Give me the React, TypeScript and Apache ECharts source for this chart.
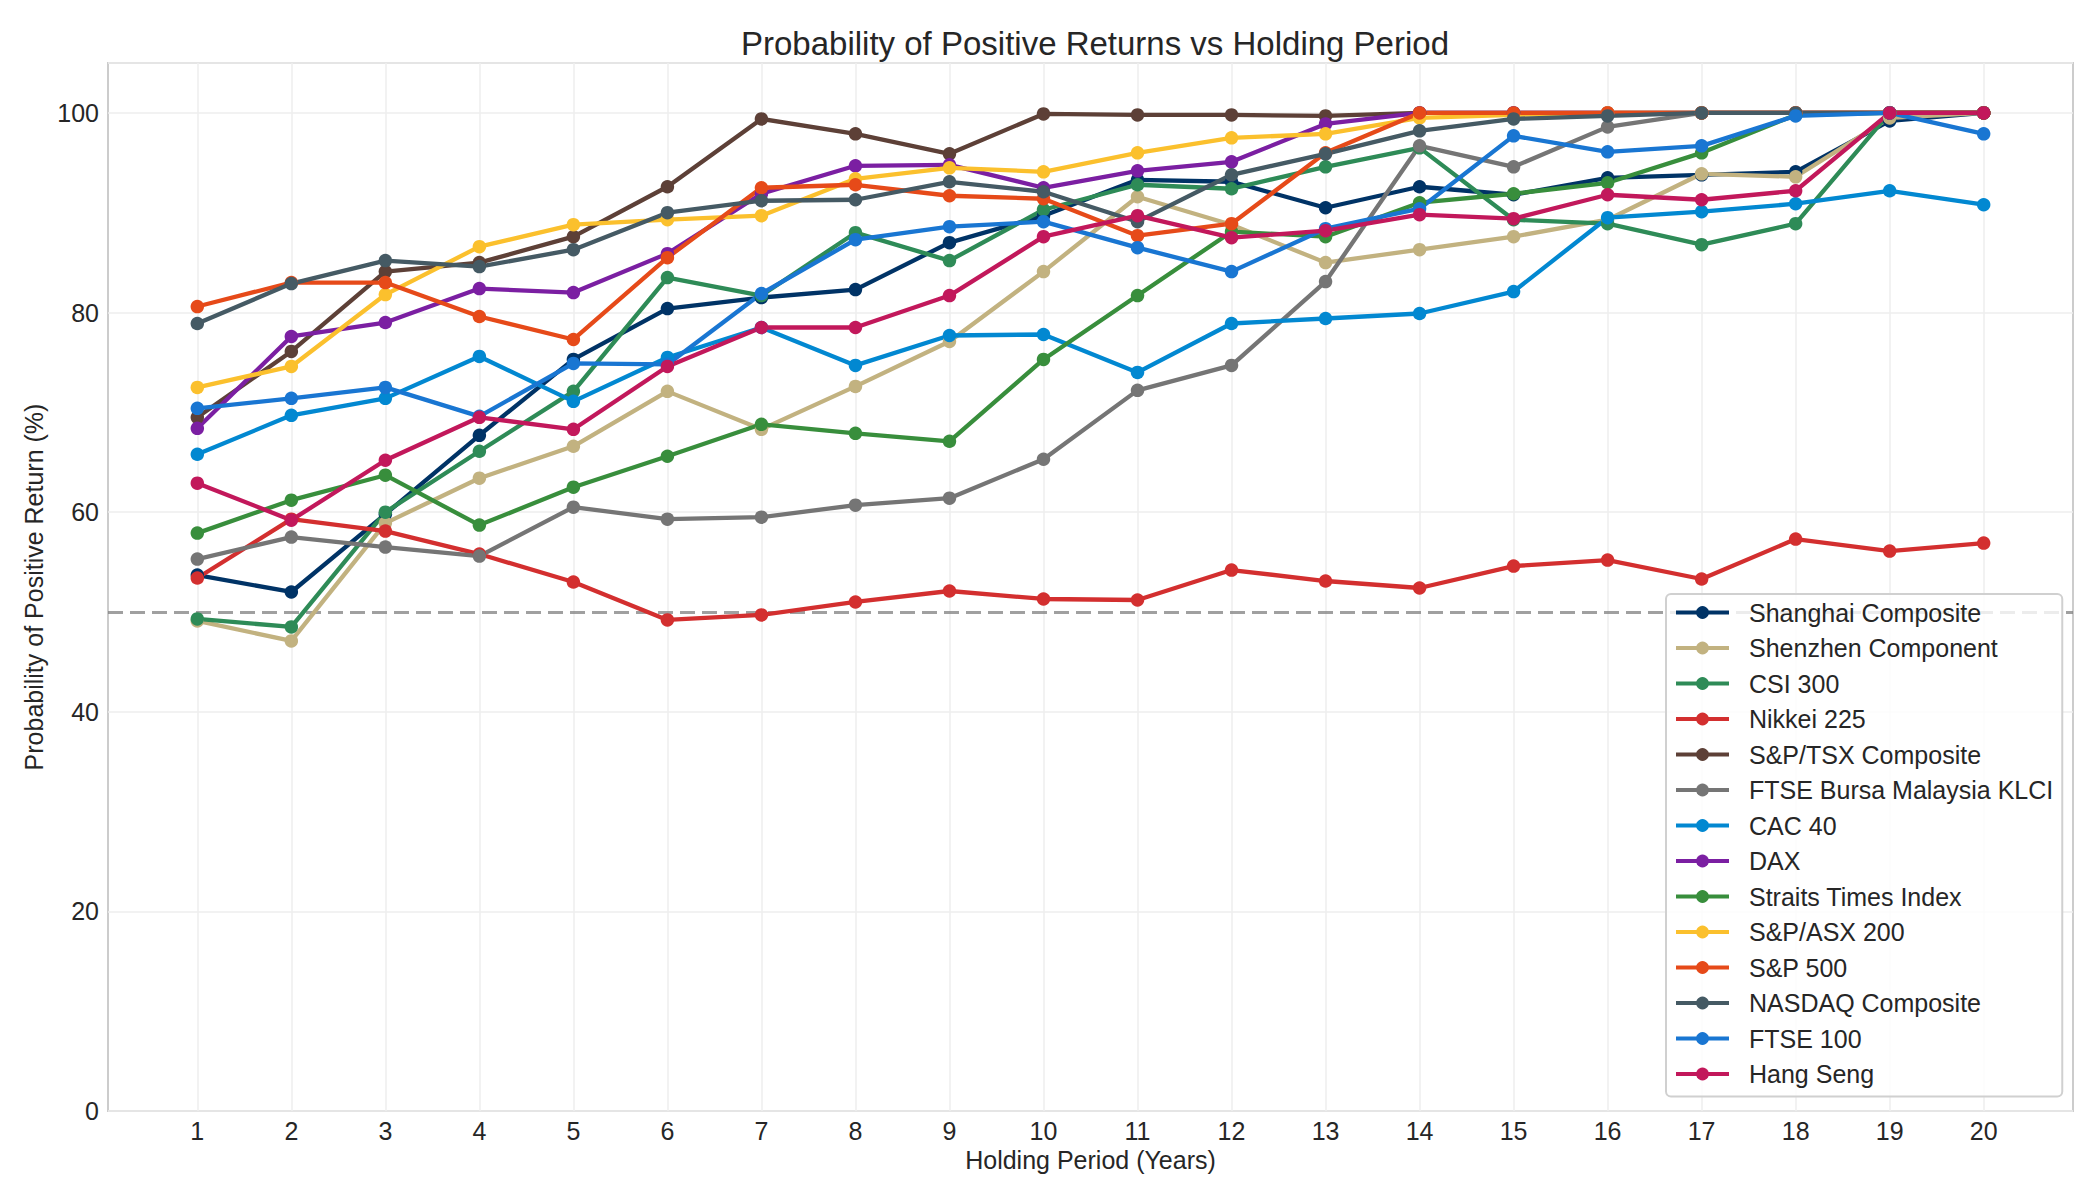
import React, { useEffect, useRef } from 'react';
import * as echarts from 'echarts';

const years = [1, 2, 3, 4, 5, 6, 7, 8, 9, 10, 11, 12, 13, 14, 15, 16, 17, 18, 19, 20];

const shanghai = [53.7, 52.0, 59.8, 67.7, 75.3, 80.4, 81.5, 82.3, 87.0, 89.7, 93.3, 93.1, 90.5, 92.6, 91.8, 93.5, 93.8, 94.1, 99.2, 100];
const shenzhen = [49.1, 47.1, 58.9, 63.4, 66.6, 72.1, 68.3, 72.6, 77.1, 84.1, 91.6, 88.8, 85.0, 86.3, 87.6, 89.3, 93.9, 93.6, 99.5, 100];
const csi300 = [49.3, 48.5, 60.0, 66.1, 72.1, 83.5, 81.7, 88.0, 85.2, 90.3, 92.8, 92.4, 94.6, 96.5, 89.3, 88.9, 86.8, 88.9, 100, 100];
const nikkei = [53.4, 59.3, 58.1, 55.8, 53.0, 49.2, 49.7, 51.0, 52.1, 51.3, 51.2, 54.2, 53.1, 52.4, 54.6, 55.2, 53.3, 57.3, 56.1, 56.9];
const tsx = [69.5, 76.1, 84.1, 85.0, 87.6, 92.6, 99.4, 97.9, 95.9, 99.9, 99.8, 99.8, 99.7, 100, 100, 100, 100, 100, 100, 100];
const klci = [55.3, 57.5, 56.5, 55.6, 60.5, 59.3, 59.5, 60.7, 61.4, 65.3, 72.2, 74.7, 83.1, 96.7, 94.6, 98.6, 100, 100, 100, 100];
const cac40 = [65.8, 69.7, 71.4, 75.6, 71.1, 75.5, 78.5, 74.7, 77.7, 77.8, 74.0, 78.9, 79.4, 79.9, 82.1, 89.5, 90.1, 90.9, 92.2, 90.8];
const dax = [68.4, 77.6, 79.0, 82.4, 82.0, 85.9, 91.9, 94.7, 94.8, 92.5, 94.2, 95.1, 98.9, 100, 100, 100, 100, 100, 100, 100];
const straits = [57.9, 61.2, 63.7, 58.7, 62.5, 65.6, 68.8, 67.9, 67.1, 75.3, 81.7, 88.1, 87.6, 91.0, 91.9, 93.0, 96.0, 99.8, 100, 100];
const asx200 = [72.5, 74.6, 81.8, 86.6, 88.8, 89.3, 89.7, 93.4, 94.5, 94.1, 96.0, 97.5, 97.9, 99.5, 99.8, 100, 100, 100, 100, 100];
const sp500 = [80.6, 83.0, 83.0, 79.6, 77.3, 85.5, 92.5, 92.8, 91.7, 91.4, 87.7, 88.9, 96.0, 100, 100, 100, 100, 100, 100, 100];
const nasdaq = [78.9, 82.9, 85.2, 84.6, 86.3, 90.0, 91.2, 91.3, 93.1, 92.1, 89.1, 93.8, 95.9, 98.2, 99.4, 99.7, 100, 100, 100, 100];
const ftse100 = [70.4, 71.4, 72.5, 69.6, 74.9, 74.8, 81.9, 87.3, 88.6, 89.1, 86.5, 84.1, 88.4, 90.4, 97.7, 96.1, 96.7, 99.7, 100, 97.9];
const hangSeng = [62.9, 59.2, 65.2, 69.5, 68.3, 74.6, 78.5, 78.5, 81.7, 87.6, 89.7, 87.5, 88.2, 89.8, 89.4, 91.8, 91.3, 92.2, 100, 100];

const indexNames = [
  'Shanghai Composite',
  'Shenzhen Component',
  'CSI 300',
  'Nikkei 225',
  'S&P/TSX Composite',
  'FTSE Bursa Malaysia KLCI',
  'CAC 40',
  'DAX',
  'Straits Times Index',
  'S&P/ASX 200',
  'S&P 500',
  'NASDAQ Composite',
  'FTSE 100',
  'Hang Seng',
];
const indexValues = [shanghai, shenzhen, csi300, nikkei, tsx, klci, cac40, dax, straits, asx200, sp500, nasdaq, ftse100, hangSeng];
const indexColors = [
  '#003366', '#c2b280', '#2e8b57', '#d32f2f', '#5d4037', '#757575', '#0288d1',
  '#7b1fa2', '#388e3c', '#fbc02d', '#e64a19', '#455a64', '#1976d2', '#c2185b',
];

const FONT = '"Liberation Sans", Arial, sans-serif';
const TEXT = '#262626';

const App = () => {
  const chartRef = useRef(null);

  useEffect(() => {
    if (!chartRef.current) return;
    const chart = echarts.init(chartRef.current, null, { renderer: 'svg' });

    const series: any[] = indexNames.map((name, i) => ({
      name,
      type: 'line',
      data: years.map((y, j) => [y, indexValues[i][j]]),
      symbol: 'circle',
      symbolSize: 13.5,
      lineStyle: { width: 4.3, color: indexColors[i] },
      itemStyle: { color: indexColors[i] },
      emphasis: { disabled: true },
    }));

    // 50% reference line, kept under the legend
    series[0].markLine = {
      silent: true,
      z: 1,
      symbol: 'none',
      label: { show: false },
      lineStyle: { type: [15, 7], color: 'rgba(128,128,128,0.75)', width: 3 },
      data: [{ yAxis: 50 }],
    };

    const option = {
      animation: false,
      backgroundColor: '#ffffff',
      textStyle: { fontFamily: FONT },
      title: {
        text: 'Probability of Positive Returns vs Holding Period',
        left: 1090,
        textAlign: 'center',
        top: 22,
        textStyle: { fontFamily: FONT, fontSize: 33, fontWeight: 'normal', color: TEXT },
      },
      grid: {
        left: 108,
        right: 27,
        top: 63,
        bottom: 89,
        show: true,
        borderColor: '#cccccc',
        borderWidth: 2,
      },
      legend: {
        orient: 'vertical',
        left: 1666,
        top: 594,
        padding: [6, 9, 10, 8],
        itemGap: 10.5,
        itemWidth: 53,
        itemHeight: 16,
        lineStyle: { width: 4 },
        backgroundColor: 'rgba(255,255,255,0.8)',
        borderColor: '#d0d0d0',
        borderWidth: 2,
        borderRadius: 5,
        z: 10,
        textStyle: { fontFamily: FONT, fontSize: 25, lineHeight: 25, color: TEXT, padding: [0, 0, 0, 15] },
        data: indexNames,
      },
      xAxis: {
        type: 'value',
        min: 0.05,
        max: 20.95,
        name: 'Holding Period (Years)',
        nameLocation: 'middle',
        nameGap: 35,
        nameTextStyle: { fontFamily: FONT, fontSize: 25, color: TEXT },
        axisLine: { show: false },
        axisTick: { show: false, customValues: years },
        axisLabel: {
          margin: 7,
          fontFamily: FONT,
          fontSize: 25,
          color: TEXT,
          customValues: years,
        },
        splitLine: { show: true, lineStyle: { color: '#eeeeee', width: 1.5 } },
      },
      yAxis: {
        type: 'value',
        min: 0,
        max: 105,
        interval: 20,
        name: 'Probability of Positive Return (%)',
        nameLocation: 'middle',
        nameGap: 54,
        nameTextStyle: { fontFamily: FONT, fontSize: 25, color: TEXT },
        axisLine: { show: false },
        axisTick: { show: false },
        axisLabel: {
          margin: 9,
          fontFamily: FONT,
          fontSize: 25,
          color: TEXT,
          showMaxLabel: false,
          formatter: (v: number) => (v % 20 === 0 ? String(v) : ''),
        },
        splitLine: { show: true, lineStyle: { color: '#eeeeee', width: 1.5 } },
      },
      series,
    };

    chart.setOption(option);

    return () => {
      chart.dispose();
    };
  }, []);

  return (
    <div
      ref={chartRef}
      style={{ position: 'absolute', left: 0, top: 0, width: '2100px', height: '1200px', background: '#fff' }}
    />
  );
};

export default App;
